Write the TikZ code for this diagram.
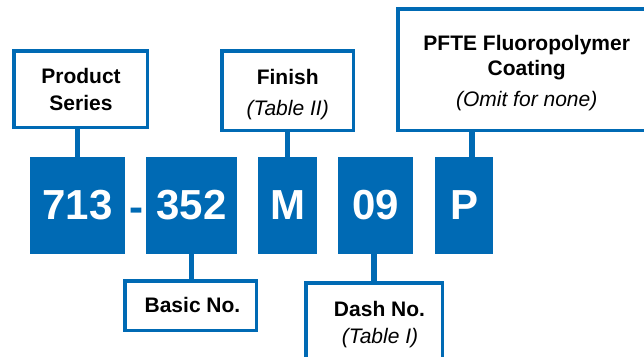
\documentclass[tikz,border=0pt]{standalone}
\usepackage{fontspec}
\setmainfont{Liberation Sans}
\definecolor{pblue}{RGB}{0,106,180}
\tikzset{
  lbox/.style={draw=pblue, line width=3.5pt, fill=white, inner sep=0pt},
  ltxt/.style={inner sep=0pt, anchor=base, font=\fontsize{21}{26}\selectfont\bfseries},
  lsub/.style={inner sep=0pt, anchor=base, font=\fontsize{21}{26}\selectfont\itshape},
  codebox/.style={fill=pblue, text=white, inner sep=0pt,
    font=\fontsize{42}{42}\selectfont\bfseries},
  conn/.style={draw=pblue, line width=5.5pt}
}
\begin{document}
\begin{tikzpicture}[x=1pt,y=-1pt]
\useasboundingbox (0,0) rectangle (644,356);
\clip (0,0) rectangle (644,356);
% code boxes
\node[codebox, minimum width=95pt, minimum height=97pt] (c713) at (77.5,205.5) {713};
\node[codebox, minimum width=91pt, minimum height=97pt] (c352) at (191.5,205.5) {352};
\node[codebox, minimum width=59pt, minimum height=97pt] (cM) at (287.5,205.5) {M};
\node[codebox, minimum width=75pt, minimum height=97pt] (c09) at (375.5,205.5) {09};
\node[codebox, minimum width=58pt, minimum height=97pt] (cP) at (464,205.5) {P};
\node[font=\fontsize{42}{42}\selectfont\bfseries, text=pblue, inner sep=0pt, anchor=base] (hy) at (136,221.7) {-};
% label boxes
\node[lbox, minimum width=133.5pt, minimum height=76.5pt] (series) at (80.5,89) {};
\node[lbox, minimum width=131.5pt, minimum height=79.5pt] (finish) at (287.5,90.5) {};
\node[lbox, minimum width=254.5pt, minimum height=121.5pt] (pfte) at (525,69.5) {};
\node[lbox, minimum width=131.5pt, minimum height=49.5pt] (basic) at (190.5,305.5) {};
\node[lbox, minimum width=136.5pt, minimum height=77.5pt] (dash) at (374,321.5) {};
% label texts
\node[ltxt] (seriesA) at (81,83.7) {Product};
\node[ltxt] (seriesB) at (81,110) {Series};
\node[ltxt] (finishA) at (287.7,84.3) {Finish};
\node[lsub] (finishB) at (287.7,115.7) {(Table II)};
\node[ltxt] (pfteA) at (526.7,50) {PFTE Fluoropolymer};
\node[ltxt] (pfteB) at (526.7,75.7) {Coating};
\node[lsub] (pfteC) at (526.7,106.7) {(Omit for none)};
\node[ltxt] (basicA) at (192.5,312.3) {Basic No.};
\node[ltxt] (dashA) at (379.5,316.7) {Dash No.};
\node[lsub] (dashB) at (380,343.3) {(Table I)};
% connectors
\draw[conn] (c713.north) -- (c713.north |- series.south);
\draw[conn] (cM.north) -- (cM.north |- finish.south);
\draw[conn] ([xshift=8pt]cP.north) -- ([xshift=8pt]cP.north |- pfte.south);
\draw[conn] (c352.south) -- (c352.south |- basic.north);
\draw[conn] (dash.north) -- (dash.north |- c09.south);
\end{tikzpicture}
\end{document}
